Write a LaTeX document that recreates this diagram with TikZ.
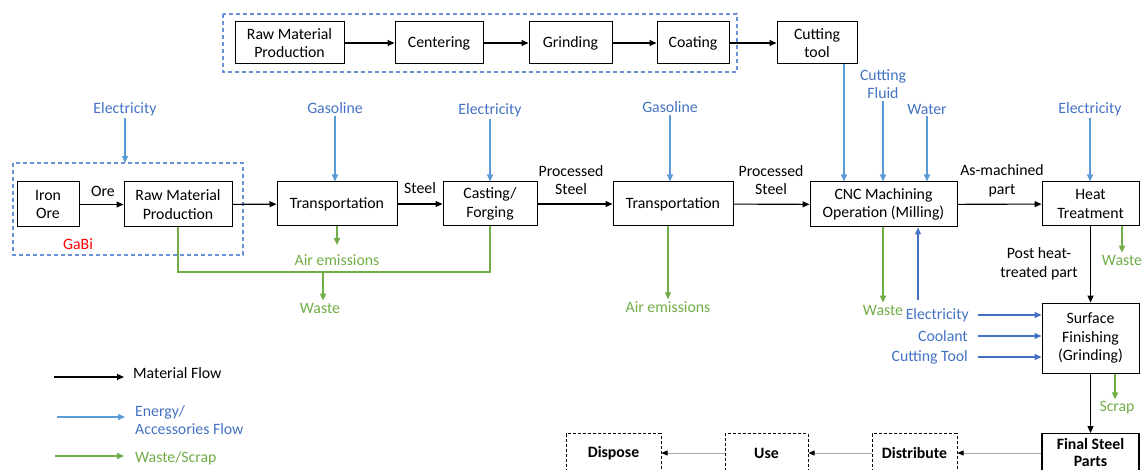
\documentclass[tikz,border=0pt]{standalone}
\usepackage{fontspec}
\setmainfont{Carlito}
\usetikzlibrary{arrows.meta}
\definecolor{tb}{HTML}{4472C4}
\definecolor{ab}{HTML}{5B9BD5}
\definecolor{gr}{HTML}{70AD47}
\definecolor{db}{HTML}{6A8FD8}
\tikzset{
  box/.style={draw=black, line width=1pt, inner sep=2pt, align=center, fill=white},
  dbox/.style={box, dashed, dash pattern=on 3pt off 2pt},
  lbl/.style={inner sep=2pt, align=center},
  blbl/.style={lbl, text=tb},
  glbl/.style={lbl, text=gr},
  mf/.style={line width=1.1pt, draw=black, -{Triangle[length=7pt,width=6pt]}},
  ef/.style={line width=1.3pt, draw=ab, -{Triangle[length=7pt,width=6pt]}},
  ef2/.style={line width=1.3pt, draw=tb, -{Triangle[length=7pt,width=6pt]}},
  wf/.style={line width=1.6pt, draw=gr, -{Triangle[length=7pt,width=6pt]}},
  wl/.style={line width=1.6pt, draw=gr},
  gf/.style={line width=0.7pt, draw=gray!70, -{Triangle[length=6pt,width=5pt,color=black]}},
  grp/.style={draw=db, line width=1.2pt, dash pattern=on 4pt off 3pt}
}
\begin{document}
\begin{tikzpicture}[x=1pt,y=-1pt,font=\fontsize{15.8}{18.5}\selectfont]
\useasboundingbox (0,0) rectangle (1145,470);
\clip (0,0) rectangle (1145,470);

% top group
\draw[grp] (223,14) rectangle (737,72);
\node[box, minimum width=109pt, minimum height=42pt] (trm) at (289.5,43) {Raw Material\\Production};
\node[box, minimum width=88pt, minimum height=42pt] (cen) at (439,43) {Centering};
\node[box, minimum width=83pt, minimum height=42pt] (gri) at (570.5,43) {Grinding};
\node[box, minimum width=72pt, minimum height=42pt] (coa) at (693,43) {Coating};
\node[box, minimum width=80pt, minimum height=42pt] (ct) at (817,43) {Cutting\\tool};
\draw[mf] (trm) -- (cen);
\draw[mf] (cen) -- (gri);
\draw[mf] (gri) -- (coa);
\draw[mf] (coa) -- (ct);

% GaBi group
\draw[grp] (13,163) rectangle (243,255);
\coordinate (gabitop) at (125,163);
\node[lbl, text=red] (gabi) at (78,244) {GaBi};

% main row
\node[box, minimum width=62pt, minimum height=45pt] (iron) at (48,204.5) {Iron\\Ore};
\node[box, minimum width=108pt, minimum height=45pt] (rmp) at (178,204.5) {Raw Material\\Production};
\node[box, minimum width=120pt, minimum height=44pt] (tr1) at (337,204) {Transportation};
\node[box, minimum width=94pt, minimum height=44pt] (cast) at (490,204) {Casting/\\Forging};
\node[box, minimum width=120pt, minimum height=44pt] (tr2) at (673,204) {Transportation};
\node[box, minimum width=147pt, minimum height=45pt] (cnc) at (883.5,204.5) {CNC Machining\\Operation (Milling)};
\node[box, minimum width=97pt, minimum height=44pt] (heat) at (1090.5,204) {Heat\\Treatment};
\node[box, minimum width=97pt, minimum height=70pt] (surf) at (1090.5,338) {Surface\\Finishing\\(Grinding)};
\node[box, line width=1.3pt, font=\fontsize{15.8}{17.5}\selectfont\bfseries, minimum width=97pt, minimum height=38pt, anchor=north] (final) at (1090.5,433) {Final Steel\\Parts};
\node[dbox, font=\fontsize{15.8}{18.5}\selectfont\bfseries, minimum width=85pt, minimum height=40pt, anchor=north] (dist) at (914.5,433) {Distribute};
\node[dbox, font=\fontsize{15.8}{18.5}\selectfont\bfseries, minimum width=83pt, minimum height=40pt, anchor=north] (use) at (766.5,433) {Use};
\node[dbox, font=\fontsize{15.8}{18.5}\selectfont\bfseries, minimum width=95pt, minimum height=40pt, anchor=north] (disp) at (613.5,433) {Dispose};

% material flow labels
\node[lbl] (ore) at (103,191) {Ore};
\node[lbl] (steel) at (420,188) {Steel};
\node[lbl] (ps1) at (571,180) {Processed\\Steel};
\node[lbl] (ps2) at (771,180) {Processed\\Steel};
\node[lbl] (asm) at (1002,181) {As-machined\\part};
\node[lbl] (post) at (1039,264) {Post heat-\\treated part};

\draw[mf] (iron) -- (rmp);
\draw[mf] (rmp) -- (tr1);
\draw[mf] (tr1) -- (cast);
\draw[mf] (cast) -- (tr2);
\draw[mf] (tr2) -- (cnc);
\draw[mf] (cnc) -- (heat);
\draw[mf] (heat) -- (surf);
\draw[mf] (surf) -- (final);
\draw[gf] (final.west |- 0,453) -- (dist.east |- 0,453);
\draw[gf] (dist.west |- 0,453) -- (use.east |- 0,453);
\draw[gf] (use.west |- 0,453) -- (disp.east |- 0,453);

% energy inputs
\node[blbl] (e1) at (125,109) {Electricity};
\node[blbl] (g1) at (335,108) {Gasoline};
\node[blbl] (e2) at (490,110) {Electricity};
\node[blbl] (g2) at (670,107) {Gasoline};
\node[blbl] (cfl) at (883,84) {Cutting\\Fluid};
\node[blbl] (wat) at (927,109) {Water};
\node[blbl] (e3) at (1090,109) {Electricity};
\node[blbl, anchor=east] (e4) at (971,315) {Electricity};
\node[blbl, anchor=east] (cool) at (970,336) {Coolant};
\node[blbl, anchor=east] (ctl) at (970,357) {Cutting Tool};

\draw[ef] (e1.south) -- (gabitop);
\draw[ef] (g1.south) -- (g1.south |- tr1.north);
\draw[ef] (e2.south) -- (e2.south |- cast.north);
\draw[ef] (g2.south) -- (g2.south |- tr2.north);
\draw[ef] (ct.south -| 844,0) -- (cnc.north -| 844,0);
\draw[ef] (cfl.south) -- (cfl.south |- cnc.north);
\draw[ef] (wat.south) -- (wat.south |- cnc.north);
\draw[ef] (e3.south) -- (e3.south |- heat.north);
\coordinate (eu) at (918,300);
\draw[ef2] (eu) -- (eu |- cnc.south);
\coordinate (s1) at (978,315);
\coordinate (s2) at (978,336);
\coordinate (s3) at (978,357);
\draw[ef2] (s1) -- (s1 -| surf.west);
\draw[ef2] (s2) -- (s2 -| surf.west);
\draw[ef2] (s3) -- (s3 -| surf.west);

% waste outputs
\node[glbl] (air1) at (337,260) {Air emissions};
\node[glbl] (w1) at (320,308) {Waste};
\node[glbl] (air2) at (668,307) {Air emissions};
\node[glbl] (w2) at (883,310) {Waste};
\node[glbl] (w3) at (1122,260) {Waste};
\node[glbl] (scrap) at (1117,408) {Scrap};

\draw[wf] (tr1.south) -- (tr1.south |- 0,245);
\draw[wl] (rmp.south) -- (rmp.south |- 0,272) -- (cast.south |- 0,272) -- (cast.south);
\coordinate (wj) at (323,272);
\draw[wf] (wj) -- (w1.north -| wj);
\draw[wf] (tr2.south -| air2) -- (air2.north);
\draw[wf] (cnc.south -| w2) -- (w2.north);
\draw[wf] (heat.south -| 1122,0) -- (w3.north -| 1122,0);
\draw[wf] (surf.south -| 1115,0) -- (scrap.north -| 1115,0);

% legend
\coordinate (l1a) at (54,377); \coordinate (l1b) at (124,377);
\coordinate (l2a) at (57,417); \coordinate (l2b) at (125,417);
\coordinate (l3a) at (55,456); \coordinate (l3b) at (124,456);
\draw[mf] (l1a) -- (l1b);
\draw[ef] (l2a) -- (l2b);
\draw[wf] (l3a) -- (l3b);
\node[lbl, anchor=west] (lt1) at (131,373) {Material Flow};
\node[blbl, anchor=west, align=left] (lt2) at (133,420) {Energy/\\Accessories Flow};
\node[glbl, anchor=west] (lt3) at (133,458) {Waste/Scrap};
\end{tikzpicture}
\end{document}
